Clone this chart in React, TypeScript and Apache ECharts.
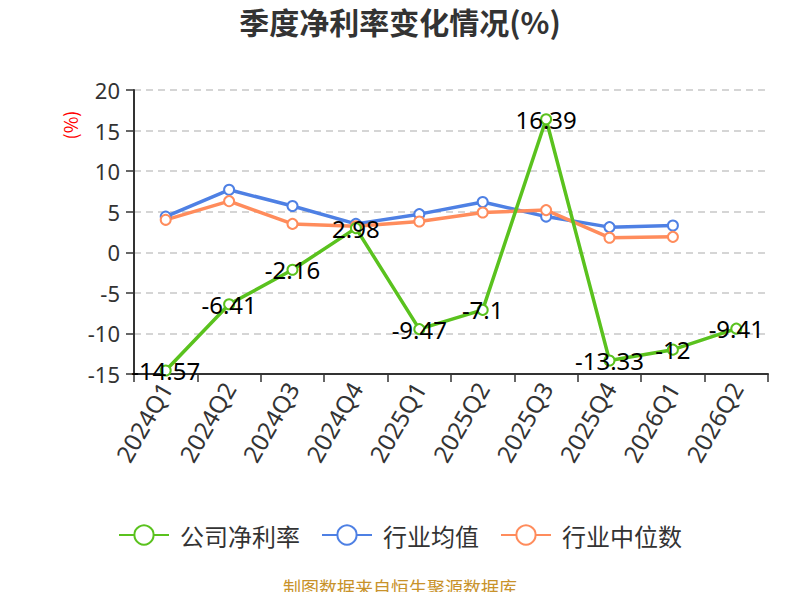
import React, { useEffect, useRef } from "react";
import * as echarts from "echarts";

const categories = ["2024Q1", "2024Q2", "2024Q3", "2024Q4", "2025Q1", "2025Q2", "2025Q3", "2025Q4", "2026Q1", "2026Q2"];
const companyValues = [-14.57, -6.41, -2.16, 2.98, -9.47, -7.1, 16.39, -13.33, -12, -9.41];
const industryAvg = [4.4, 7.7, 5.7, 3.5, 4.7, 6.2, 4.4, 3.1, 3.3];
const industryMedian = [4.0, 6.3, 3.5, 3.2, 3.8, 4.9, 5.2, 1.8, 1.9];
const yTicks = { min: -15, max: 20, step: 5 };

const CJK = "'Noto Sans CJK SC', 'Noto Sans', sans-serif";
const NUM = "'Noto Sans', 'Noto Sans CJK SC', sans-serif";

export default function App() {
  const ref = useRef<HTMLDivElement>(null);
  useEffect(() => {
    if (!ref.current) return;
    const chart = echarts.init(ref.current, undefined, { renderer: "svg" });
    chart.setOption({
      animation: false,
      textStyle: { fontFamily: CJK },
      title: {
        text: "季度净利率变化情况(%)",
        left: "center",
        top: 4,
        padding: [2, 5, 2, 5],
        textStyle: { fontSize: 30, fontWeight: "bold", color: "#333", fontFamily: CJK },
      },
      graphic: [
        {
          type: "text",
          x: 70,
          y: 125,
          rotation: Math.PI / 2,
          style: { text: "(%)", fill: "#f00", fontSize: 18, fontFamily: CJK, align: "center", verticalAlign: "middle" },
        },
        {
          type: "text",
          x: 400,
          y: 587,
          style: { text: "制图数据来自恒生聚源数据库", fill: "#c8922a", fontSize: 18, fontFamily: CJK, align: "center", verticalAlign: "middle" },
        },
      ],
      legend: {
        top: 518,
        left: "center",
        itemWidth: 50,
        itemHeight: 24,
        itemGap: 21,
        textStyle: { fontSize: 24, color: "#333", fontFamily: CJK, padding: [0, 0, 0, 6] },
        data: ["公司净利率", "行业均值", "行业中位数"],
      },
      grid: { left: 134, right: 32, top: 90, bottom: 226, containLabel: false },
      xAxis: [
        {
          type: "category",
          data: categories,
          boundaryGap: true,
          axisLine: { show: false },
          axisTick: { show: false },
          axisLabel: { rotate: 60, fontSize: 24, color: "#333", margin: 10, interval: 0, fontFamily: NUM },
        },
        {
          type: "category",
          data: categories,
          boundaryGap: true,
          position: "bottom",
          axisLine: { show: true, onZero: true, lineStyle: { color: "#333", width: 2 } },
          axisTick: { show: true, length: 8, lineStyle: { color: "#333", width: 1.5 } },
          axisLabel: { show: false },
        },
      ],
      yAxis: {
        type: "value",
        min: yTicks.min,
        max: yTicks.max,
        interval: yTicks.step,
        axisLine: { show: true, lineStyle: { color: "#333", width: 2 } },
        axisTick: { show: true, length: 8, lineStyle: { color: "#333", width: 1.5 } },
        axisLabel: { fontSize: 22, color: "#333", margin: 14, fontFamily: NUM },
        splitLine: { show: true, lineStyle: { type: [7, 5], color: "#c8c8c8", width: 1.5 } },
      },
      series: [
        {
          name: "公司净利率",
          type: "line",
          data: companyValues,
          symbol: "emptyCircle",
          symbolSize: 10,
          itemStyle: { color: "#5ac21e", borderWidth: 2 },
          lineStyle: { width: 3.5, color: "#5ac21e" },
          label: { show: true, position: "inside", color: "#000", fontSize: 24, fontFamily: NUM },
          z: 3,
        },
        {
          name: "行业均值",
          type: "line",
          data: industryAvg,
          symbol: "emptyCircle",
          symbolSize: 10,
          itemStyle: { color: "#4e80e4", borderWidth: 2 },
          lineStyle: { width: 3.5, color: "#4e80e4" },
          z: 2,
        },
        {
          name: "行业中位数",
          type: "line",
          data: industryMedian,
          symbol: "emptyCircle",
          symbolSize: 10,
          itemStyle: { color: "#ff8c5c", borderWidth: 2 },
          lineStyle: { width: 3.5, color: "#ff8c5c" },
          z: 2,
        },
      ],
    });
    return () => chart.dispose();
  }, []);
  return <div ref={ref} style={{ width: 800, height: 600, margin: -8 }} />;
}
